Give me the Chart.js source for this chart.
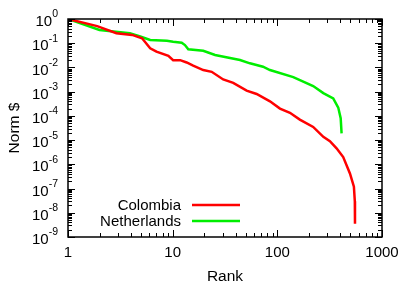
<!DOCTYPE html>
<html>
<head>
<meta charset="utf-8">
<script src="https://cdn.jsdelivr.net/npm/chart.js@4"></script>
<style>
  html, body { margin: 0; padding: 0; background: #fff; }
  #wrap { width: 411px; height: 288px; }
</style>
</head>
<body>
<div id="wrap"><canvas id="rank-chart"></canvas></div>
<script>
const colombiaRank = [1, 1.9, 2.9, 4.1, 5.1, 6.1, 7, 9.1, 10.1, 11.8, 13.6, 15.7, 19.6, 23.6, 30.4, 37.9, 50.9, 63.4, 85, 106, 132, 164, 220, 275, 318, 368, 426, 494, 539, 550, 552];
const colombiaValue = [1, 0.51, 0.26, 0.22, 0.16, 0.062, 0.045, 0.030, 0.020, 0.020, 0.016, 0.0118, 0.0078, 0.0066, 0.0032, 0.0023, 0.0011, 0.0008, 0.0004, 0.0002, 0.000135, 0.00007, 0.000035, 0.0000137, 0.0000091, 0.0000046, 0.000002, 4.2e-7, 1.2e-7, 3e-8, 3.5e-9];

const netherlandsRank = [1, 2, 3.9, 4.9, 6.1, 8.8, 10.1, 12.2, 13.1, 14.1, 19.6, 25.4, 44, 54.7, 73, 85, 142, 220, 275, 342, 382, 403, 411];
const netherlandsValue = [1, 0.35, 0.26, 0.19, 0.136, 0.127, 0.115, 0.105, 0.084, 0.056, 0.049, 0.0325, 0.0202, 0.0148, 0.0107, 0.0078, 0.0040, 0.0017, 0.00087, 0.00053, 0.00022, 0.00008, 0.000019];

const xTicks = [1, 10, 100, 1000];
const yExponents = [0, -1, -2, -3, -4, -5, -6, -7, -8, -9];

const seriesNames = ["Colombia", "Netherlands"];
const seriesColors = ["#ff0000", "#00ee00"];

const FONT = "'Liberation Sans', Arial, sans-serif";

const toPoints = (xs, ys) => xs.map((x, i) => ({ x: x, y: ys[i] }));

// gnuplot style frame, inward ticks, y labels and legend
const gnuplotLook = {
  id: "gnuplotLook",
  afterDraw(chart) {
    const ctx = chart.ctx;
    const { left, right, top, bottom } = chart.chartArea;
    const xs = chart.scales.x;
    const ys = chart.scales.y;
    ctx.save();
    ctx.strokeStyle = "#000";
    ctx.lineWidth = 1;

    ctx.beginPath();
    for (let d = 1; d <= 1000; d *= 10) {
      for (let m = 1; m <= (d === 1000 ? 1 : 9); m++) {
        const px = Math.round(xs.getPixelForValue(d * m)) + 0.5;
        const len = m === 1 ? 7 : 4;
        ctx.moveTo(px, bottom); ctx.lineTo(px, bottom - len);
        ctx.moveTo(px, top); ctx.lineTo(px, top + len);
      }
    }
    for (let e = -9; e <= 0; e++) {
      for (let m = 1; m <= (e === 0 ? 1 : 9); m++) {
        const py = Math.round(ys.getPixelForValue(m * Math.pow(10, e))) + 0.5;
        const len = m === 1 ? 7 : 4;
        ctx.moveTo(left, py); ctx.lineTo(left + len, py);
        ctx.moveTo(right, py); ctx.lineTo(right - len, py);
      }
    }
    ctx.stroke();

    ctx.lineWidth = 1.5;
    ctx.strokeRect(left, top, right - left, bottom - top);

    // y tick labels 10^e
    ctx.fillStyle = "#000";
    ctx.textBaseline = "middle";
    ctx.textAlign = "left";
    yExponents.forEach((e) => {
      const py = ys.getPixelForValue(Math.pow(10, e));
      const expStr = e === 0 ? "0" : "-" + (-e);
      ctx.font = "10.5px " + FONT;
      const w2 = ctx.measureText(expStr).width;
      ctx.font = "15px " + FONT;
      const w1 = ctx.measureText("10").width;
      const xr = 58;
      ctx.fillText("10", xr - w2 - w1, py + 3);
      ctx.font = "10.5px " + FONT;
      ctx.fillText(expStr, xr - w2, py - 4.5);
    });

    // legend
    ctx.font = "15px " + FONT;
    ctx.textAlign = "right";
    ctx.lineWidth = 2.5;
    seriesNames.forEach((name, i) => {
      const ly = 205 + i * 16;
      ctx.fillText(name, 181, ly + 1);
      ctx.strokeStyle = seriesColors[i];
      ctx.beginPath();
      ctx.moveTo(192, ly);
      ctx.lineTo(240, ly);
      ctx.stroke();
    });
    ctx.restore();
  },
};

const rankConfig = {
  type: "line",
  data: {
    datasets: [
      {
        label: seriesNames[0],
        data: toPoints(colombiaRank, colombiaValue),
        borderColor: seriesColors[0],
        borderWidth: 2.5,
        pointRadius: 0,
        tension: 0,
        fill: false,
      },
      {
        label: seriesNames[1],
        data: toPoints(netherlandsRank, netherlandsValue),
        borderColor: seriesColors[1],
        borderWidth: 2.5,
        pointRadius: 0,
        tension: 0,
        fill: false,
      },
    ],
  },
  options: {
    responsive: true,
    maintainAspectRatio: false,
    animation: false,
    layout: { padding: { top: 19, right: 29, left: 0, bottom: 0 } },
    plugins: {
      legend: { display: false },
      tooltip: { enabled: false },
    },
    scales: {
      x: {
        type: "logarithmic",
        min: 1,
        max: 1000,
        grid: { display: false, drawTicks: false },
        border: { display: false },
        afterBuildTicks: (scale) => {
          scale.ticks = xTicks.map((v) => ({ value: v }));
        },
        afterFit: (scale) => { scale.height = 51; },
        ticks: {
          color: "#000",
          padding: 7,
          maxRotation: 0,
          autoSkip: false,
          font: { family: FONT, size: 15 },
          callback: (v) => String(v),
        },
        title: {
          display: true,
          text: "Rank",
          color: "#000",
          padding: { top: 0, bottom: 2 },
          font: { family: FONT, size: 15.5 },
        },
      },
      y: {
        type: "logarithmic",
        min: 1e-9,
        max: 1,
        grid: { display: false, drawTicks: false },
        border: { display: false },
        afterFit: (scale) => { scale.width = 68; },
        ticks: { display: false },
        title: {
          display: true,
          text: "Norm $",
          color: "#000",
          padding: { top: 5, bottom: 0 },
          font: { family: FONT, size: 15.5 },
        },
      },
    },
  },
  plugins: [gnuplotLook],
};

const ctx = document.getElementById("rank-chart").getContext("2d");
const rankChart = new Chart(ctx, rankConfig);
</script>
</body>
</html>
